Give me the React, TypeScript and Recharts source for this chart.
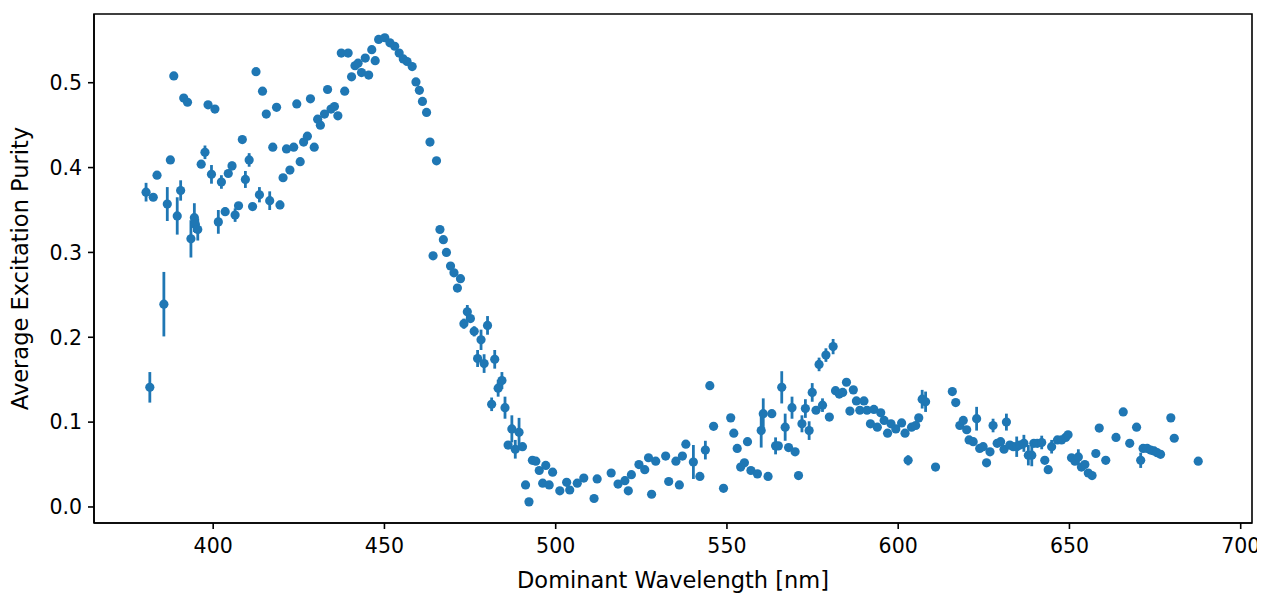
import { ScatterChart, Scatter, XAxis, YAxis, ErrorBar, ReferenceArea } from "recharts"

// (nm, excitation purity, +/- error)
const wavelength = [
  380.4, 381.5, 382.5, 383.6, 385.6, 386.6, 387.5, 388.5, 389.5, 390.5, 391.4, 392.5, 393.5, 394.5, 394.8, 395.5,
  396.5, 397.6, 398.5, 399.5, 400.5, 401.5, 402.4, 403.5, 404.4, 405.5, 406.4, 407.4, 408.5, 409.4, 410.5, 411.5,
  412.5, 413.5, 414.4, 415.5, 416.5, 417.4, 418.5, 419.5, 420.4, 421.4, 422.4, 423.5, 424.4, 425.4, 426.4, 427.5,
  428.4, 429.5, 430.5, 431.3, 432.5, 433.4, 434.4, 435.4, 436.4, 437.4, 438.4, 439.4, 440.4, 441.4, 442.3, 443.3,
  444.4, 445.4, 446.3, 447.3, 448.3, 450.1, 451.6, 453.0, 454.3, 455.5, 456.6, 458.1, 459.2, 460.2, 461.1, 462.3,
  463.3, 464.2, 465.2, 466.2, 467.2, 468.1, 469.3, 470.3, 471.3, 472.2, 473.2, 474.2, 475.1, 476.2, 477.2, 478.2,
  479.1, 480.1, 481.3, 482.2, 483.2, 484.3, 485.2, 486.1, 487.2, 488.2, 489.3, 490.3, 491.2, 492.2, 493.2, 494.2,
  495.2, 496.2, 497.1, 498.1, 499.1, 501.2, 503.2, 504.1, 506.3, 508.2, 511.2, 512.1, 516.2, 518.2, 520.2, 521.2,
  522.1, 524.3, 526.0, 527.1, 528.0, 529.2, 532.1, 533.0, 535.1, 536.1, 537.0, 538.0, 540.2, 542.1, 543.7, 545.0,
  546.1, 549.0, 551.1, 552.0, 553.0, 554.0, 555.1, 556.0, 557.0, 558.9, 560.0, 560.6, 562.0, 563.1, 564.2, 565.0,
  566.0, 567.0, 568.0, 569.0, 569.9, 570.9, 571.9, 572.9, 574.0, 574.9, 576.0, 576.9, 577.9, 578.9, 579.9, 581.0,
  581.7, 582.8, 583.8, 584.9, 585.9, 586.9, 587.8, 588.8, 590.0, 590.9, 591.9, 592.9, 593.9, 594.9, 595.9, 596.9,
  597.9, 599.3, 601.0, 602.0, 602.9, 603.9, 605.1, 606.0, 607.0, 608.0, 610.9, 615.8, 616.8, 618.0, 619.0, 620.0,
  620.7, 621.9, 622.9, 623.8, 624.8, 625.8, 626.8, 627.7, 628.9, 629.9, 630.9, 631.6, 632.6, 633.6, 634.6, 635.5,
  636.7, 638.0, 639.0, 639.6, 640.6, 641.9, 642.8, 643.8, 644.8, 646.5, 647.7, 648.9, 649.6, 650.6, 651.6, 652.6,
  653.5, 654.5, 655.5, 656.6, 657.7, 658.7, 660.6, 663.6, 665.7, 667.6, 669.6, 670.8, 671.5, 672.7, 673.7, 674.7,
  675.6, 676.6, 679.6, 680.6, 687.6,
]

const purity = [
  0.371, 0.141, 0.365, 0.391, 0.239, 0.357, 0.409, 0.508, 0.343, 0.373, 0.482, 0.477, 0.316, 0.341, 0.333, 0.327,
  0.404, 0.418, 0.474, 0.392, 0.469, 0.336, 0.383, 0.348, 0.393, 0.402, 0.344, 0.355, 0.433, 0.386, 0.409, 0.354,
  0.513, 0.368, 0.490, 0.463, 0.361, 0.424, 0.471, 0.356, 0.388, 0.422, 0.397, 0.424, 0.475, 0.407, 0.430, 0.437,
  0.481, 0.424, 0.457, 0.450, 0.463, 0.492, 0.469, 0.472, 0.461, 0.535, 0.490, 0.535, 0.507, 0.520, 0.523, 0.512,
  0.529, 0.509, 0.539, 0.526, 0.551, 0.553, 0.547, 0.543, 0.535, 0.528, 0.525, 0.519, 0.501, 0.491, 0.478, 0.465,
  0.430, 0.296, 0.408, 0.327, 0.315, 0.300, 0.284, 0.276, 0.258, 0.269, 0.216, 0.230, 0.222, 0.207, 0.175, 0.197,
  0.169, 0.214, 0.121, 0.174, 0.140, 0.149, 0.117, 0.073, 0.092, 0.068, 0.088, 0.071, 0.026, 0.006, 0.055, 0.054,
  0.043, 0.028, 0.049, 0.026, 0.041, 0.019, 0.029, 0.020, 0.028, 0.034, 0.010, 0.033, 0.040, 0.027, 0.031, 0.019,
  0.038, 0.050, 0.044, 0.058, 0.015, 0.054, 0.060, 0.030, 0.054, 0.026, 0.060, 0.074, 0.053, 0.036, 0.067, 0.143,
  0.095, 0.022, 0.105, 0.087, 0.069, 0.047, 0.052, 0.077, 0.043, 0.039, 0.090, 0.110, 0.036, 0.110, 0.072, 0.072,
  0.141, 0.094, 0.070, 0.117, 0.065, 0.037, 0.098, 0.116, 0.090, 0.135, 0.114, 0.168, 0.120, 0.179, 0.106, 0.189,
  0.137, 0.133, 0.135, 0.147, 0.113, 0.138, 0.125, 0.114, 0.125, 0.114, 0.098, 0.115, 0.094, 0.111, 0.102, 0.087,
  0.098, 0.092, 0.099, 0.087, 0.055, 0.094, 0.096, 0.105, 0.127, 0.124, 0.047, 0.136, 0.123, 0.096, 0.102, 0.091,
  0.079, 0.077, 0.104, 0.069, 0.071, 0.052, 0.065, 0.096, 0.075, 0.077, 0.068, 0.100, 0.073, 0.071, 0.071, 0.073,
  0.075, 0.061, 0.061, 0.075, 0.075, 0.076, 0.055, 0.044, 0.071, 0.079, 0.079, 0.082, 0.085, 0.058, 0.054, 0.059,
  0.047, 0.050, 0.040, 0.037, 0.063, 0.093, 0.055, 0.082, 0.112, 0.075, 0.094, 0.055, 0.069, 0.069, 0.067, 0.066,
  0.064, 0.062, 0.105, 0.081, 0.054,
]

const purityErr = [
  0.011, 0.018, 0, 0, 0.038, 0.020, 0, 0, 0.022, 0.012, 0, 0, 0.022, 0.017, 0.010, 0.013,
  0, 0.008, 0, 0.011, 0, 0.014, 0.008, 0.005, 0, 0.005, 0.008, 0, 0, 0.010, 0.008, 0,
  0, 0.009, 0, 0, 0.011, 0, 0, 0.005, 0, 0, 0, 0, 0, 0, 0, 0,
  0, 0, 0, 0, 0, 0, 0, 0, 0, 0, 0, 0, 0, 0, 0, 0,
  0, 0, 0, 0, 0, 0, 0, 0, 0, 0, 0, 0, 0, 0, 0, 0,
  0, 0, 0, 0, 0, 0, 0, 0, 0, 0, 0.006, 0.008, 0, 0.006, 0.010, 0.012,
  0.011, 0.011, 0.008, 0.011, 0.010, 0.010, 0.013, 0, 0.016, 0.011, 0.017, 0, 0, 0, 0, 0,
  0, 0, 0, 0, 0, 0, 0, 0, 0, 0, 0, 0, 0, 0, 0.005, 0,
  0, 0, 0, 0, 0, 0, 0, 0, 0, 0, 0, 0, 0.020, 0, 0.011, 0,
  0, 0, 0, 0, 0, 0, 0, 0, 0, 0, 0.020, 0.018, 0, 0, 0.010, 0,
  0.019, 0.016, 0, 0.013, 0, 0.004, 0.010, 0.011, 0.011, 0.011, 0, 0.008, 0.008, 0.008, 0, 0.009,
  0, 0, 0, 0, 0, 0, 0, 0, 0, 0, 0, 0, 0, 0, 0, 0,
  0, 0, 0, 0, 0.006, 0, 0, 0, 0.011, 0.012, 0, 0, 0, 0, 0, 0,
  0, 0, 0.014, 0, 0, 0, 0, 0.008, 0, 0, 0, 0.010, 0, 0, 0.012, 0,
  0.010, 0.012, 0.013, 0, 0, 0.008, 0, 0, 0.008, 0, 0, 0, 0, 0, 0, 0.009,
  0, 0, 0, 0, 0, 0, 0, 0, 0, 0, 0, 0.009, 0, 0, 0, 0,
  0, 0, 0, 0, 0,
]

const xTicks = [400, 450, 500, 550, 600, 650, 700]
const yTicks = [0, 0.1, 0.2, 0.3, 0.4, 0.5]

const data = wavelength.map((nm, i) => ({ nm, purity: purity[i], err: purityErr[i] }))

const BLUE = "#1f77b4"
const X_DOMAIN = [365.2, 703.3]
const Y_DOMAIN = [-0.0189, 0.581]

const Dot = (props: any) => <circle cx={props.cx} cy={props.cy} r={4.6} fill={BLUE} />

export default function App() {
  return (
    <div style={{ fontFamily: "DejaVu Sans", background: "#fff" }}>
      <ScatterChart width={1257} height={588} margin={{ top: 6, right: 13, left: 0, bottom: 0 }}>
        <XAxis
          type="number"
          dataKey="nm"
          domain={X_DOMAIN}
          ticks={xTicks}
          allowDataOverflow
          height={73}
          stroke="#000"
          strokeWidth={1.6}
          tickSize={6}
          tickMargin={9}
          tick={{ fill: "#000", fontSize: 20.5 }}
          label={{ value: "Dominant Wavelength [nm]", position: "insideBottom", offset: 8, fill: "#000", fontSize: 22.5 }}
        />
        <YAxis
          type="number"
          dataKey="purity"
          domain={Y_DOMAIN}
          ticks={yTicks}
          allowDataOverflow
          width={86}
          stroke="#000"
          strokeWidth={1.6}
          tickSize={6}
          tickMargin={6}
          tickFormatter={(v: number) => v.toFixed(1)}
          tick={{ fill: "#000", fontSize: 20.5 }}
          label={{
            value: "Average Excitation Purity",
            angle: -90,
            position: "insideLeft",
            offset: 12,
            fill: "#000",
            fontSize: 22.5,
            style: { textAnchor: "middle" },
          }}
        />
        <ReferenceArea
          x1={X_DOMAIN[0]}
          x2={X_DOMAIN[1]}
          y1={Y_DOMAIN[0]}
          y2={Y_DOMAIN[1]}
          fill="none"
          stroke="#000"
          strokeWidth={1.6}
          ifOverflow="visible"
        />
        <Scatter data={data} dataKey="purity" fill={BLUE} shape={Dot} isAnimationActive={false}>
          <ErrorBar dataKey="err" direction="y" width={0} stroke={BLUE} strokeWidth={2.8} />
        </Scatter>
      </ScatterChart>
    </div>
  )
}
